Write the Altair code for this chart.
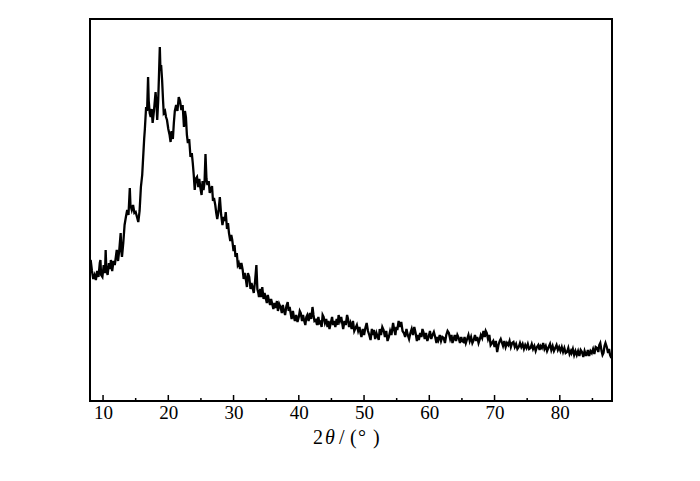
import altair as alt
import pandas as pd

two_theta = [
    8.1, 8.3, 8.5, 8.7, 8.9, 9.1, 9.3, 9.5, 9.6, 9.7, 9.9, 10.1, 10.3, 10.4, 10.5, 10.7,
    10.9, 11.1, 11.2, 11.4, 11.6, 11.8, 12.0, 12.1, 12.3, 12.5, 12.7, 12.8, 12.9, 13.1, 13.3, 13.5,
    13.7, 13.9, 14.1, 14.2, 14.4, 14.6, 14.8, 15.0, 15.2, 15.4, 15.6, 15.8, 16.0, 16.1, 16.3, 16.4,
    16.6, 16.75, 16.9, 17.0, 17.15, 17.3, 17.45, 17.6, 17.8, 18.05, 18.2, 18.3, 18.45, 18.55, 18.7, 18.8,
    18.9, 19.05, 19.2, 19.3, 19.5, 19.65, 19.8, 20.0, 20.2, 20.35, 20.5, 20.7, 20.85, 21.0, 21.2, 21.4,
    21.6, 21.8, 22.0, 22.2, 22.4, 22.55, 22.7, 22.85, 23.0, 23.2, 23.4, 23.6, 23.75, 23.9, 24.05, 24.2,
    24.4, 24.6, 24.75, 24.9, 25.1, 25.25, 25.4, 25.55, 25.7, 25.85, 26.0, 26.2, 26.35, 26.5, 26.7, 26.85,
    27.0, 27.2, 27.35, 27.5, 27.7, 27.9, 28.1, 28.3, 28.5, 28.65, 28.8, 29.0, 29.15, 29.3, 29.5, 29.65,
    29.8, 30.0, 30.15, 30.3, 30.5, 30.65, 30.8, 31.0, 31.2, 31.4, 31.55, 31.7, 31.9, 32.05, 32.2, 32.4,
    32.6, 32.75, 32.9, 33.1, 33.3, 33.5, 33.65, 33.8, 33.9, 34.1, 34.25, 34.4, 34.6, 34.75, 34.9, 35.1,
    35.25, 35.4, 35.6, 35.75, 35.9, 36.1, 36.3, 36.45, 36.65, 36.8, 37.0, 37.2, 37.4, 37.55, 37.7, 37.9,
    38.1, 38.3, 38.45, 38.6, 38.75, 38.9, 39.1, 39.25, 39.4, 39.6, 39.8, 40.0, 40.15, 40.3, 40.5, 40.65,
    40.8, 41.0, 41.15, 41.3, 41.5, 41.7, 41.9, 42.1, 42.25, 42.4, 42.6, 42.8, 43.0, 43.15, 43.3, 43.5,
    43.65, 43.8, 44.0, 44.2, 44.4, 44.55, 44.7, 44.9, 45.1, 45.25, 45.4, 45.6, 45.8, 45.95, 46.1, 46.3,
    46.5, 46.65, 46.8, 47.0, 47.2, 47.4, 47.55, 47.7, 47.9, 48.1, 48.3, 48.5, 48.7, 48.9, 49.1, 49.3,
    49.45, 49.6, 49.8, 50.0, 50.2, 50.4, 50.6, 50.8, 51.0, 51.2, 51.35, 51.5, 51.7, 51.9, 52.1, 52.25,
    52.4, 52.6, 52.8, 53.0, 53.2, 53.4, 53.6, 53.8, 54.0, 54.2, 54.45, 54.6, 54.8, 54.95, 55.1, 55.3,
    55.5, 55.7, 55.9, 56.1, 56.3, 56.5, 56.7, 56.9, 57.1, 57.3, 57.5, 57.7, 57.9, 58.1, 58.25, 58.4,
    58.6, 58.8, 58.95, 59.1, 59.3, 59.5, 59.7, 59.9, 60.1, 60.3, 60.5, 60.7, 60.9, 61.1, 61.25, 61.4,
    61.6, 61.8, 62.0, 62.2, 62.4, 62.6, 62.8, 63.0, 63.2, 63.4, 63.55, 63.7, 63.9, 64.1, 64.3, 64.5,
    64.7, 64.9, 65.05, 65.25, 65.4, 65.6, 65.8, 66.0, 66.2, 66.4, 66.6, 66.8, 67.0, 67.2, 67.35, 67.55,
    67.75, 67.9, 68.1, 68.3, 68.5, 68.65, 68.8, 69.0, 69.2, 69.4, 69.6, 69.8, 70.0, 70.2, 70.4, 70.6,
    70.8, 70.95, 71.1, 71.3, 71.5, 71.7, 71.9, 72.1, 72.3, 72.5, 72.7, 72.9, 73.1, 73.3, 73.5, 73.7,
    73.9, 74.1, 74.3, 74.5, 74.7, 74.9, 75.1, 75.3, 75.5, 75.7, 75.9, 76.1, 76.3, 76.5, 76.7, 76.9,
    77.05, 77.25, 77.45, 77.65, 77.85, 78.05, 78.3, 78.5, 78.7, 78.9, 79.1, 79.3, 79.5, 79.7, 79.9, 80.1,
    80.3, 80.5, 80.7, 80.9, 81.1, 81.3, 81.5, 81.7, 81.8, 82.0, 82.2, 82.4, 82.6, 82.8, 83.0, 83.2,
    83.4, 83.6, 83.8, 84.0, 84.1, 84.3, 84.5, 84.7, 84.9, 85.1, 85.3, 85.5, 85.7, 85.9, 86.05, 86.2,
    86.4, 86.55, 86.7, 86.85, 87.0, 87.2, 87.4, 87.55, 87.7, 87.9,
]
intensity = [
    141, 130, 122, 126, 121, 130, 124, 138, 141, 126, 124, 136, 128, 151, 132, 126,
    138, 132, 141, 130, 140, 136, 146, 151, 140, 152, 168, 150, 144, 158, 176, 184,
    191, 186, 213, 196, 191, 196, 188, 189, 184, 179, 190, 214, 226, 238, 262, 271,
    294, 290, 324, 300, 288, 284, 292, 278, 290, 309, 296, 281, 300, 321, 354, 330,
    336, 321, 300, 288, 290, 284, 281, 272, 266, 259, 270, 262, 278, 290, 296, 290,
    304, 300, 291, 296, 274, 290, 284, 266, 258, 262, 244, 248, 238, 226, 211, 222,
    224, 214, 222, 214, 206, 220, 211, 218, 247, 222, 216, 220, 208, 211, 215, 200,
    203, 196, 188, 182, 190, 204, 186, 176, 184, 180, 189, 172, 178, 168, 160, 166,
    161, 150, 156, 144, 148, 136, 138, 132, 138, 131, 122, 128, 121, 114, 128, 124,
    112, 118, 114, 108, 120, 136, 112, 108, 104, 112, 104, 114, 102, 108, 104, 98,
    106, 101, 96, 102, 98, 92, 98, 93, 100, 90, 97, 94, 88, 96, 91, 86,
    95, 99, 90, 94, 88, 82, 90, 84, 80, 86, 79, 84, 90, 88, 80, 86,
    81, 76, 84, 86, 80, 88, 82, 94, 86, 80, 81, 76, 84, 78, 79, 74,
    86, 84, 78, 82, 74, 80, 72, 78, 84, 76, 80, 74, 82, 76, 86, 80,
    84, 78, 72, 80, 76, 86, 82, 74, 78, 72, 80, 70, 73, 76, 70, 74,
    68, 64, 72, 66, 73, 78, 70, 66, 61, 72, 66, 71, 62, 68, 64, 61,
    72, 66, 74, 71, 64, 70, 60, 64, 70, 66, 78, 72, 66, 74, 71, 80,
    74, 79, 70, 68, 64, 72, 66, 62, 68, 72, 66, 74, 68, 60, 66, 61,
    68, 64, 72, 69, 62, 68, 60, 64, 70, 62, 66, 69, 64, 58, 64, 61,
    66, 60, 64, 63, 58, 66, 70, 68, 62, 66, 58, 61, 66, 60, 66, 63,
    58, 64, 60, 59, 64, 58, 62, 66, 60, 64, 58, 61, 66, 60, 64, 58,
    62, 66, 63, 70, 64, 70, 68, 62, 66, 56, 58, 60, 54, 60, 49, 56,
    60, 62, 59, 55, 60, 54, 58, 56, 60, 54, 58, 59, 54, 57, 52, 54,
    58, 54, 57, 52, 56, 53, 57, 52, 53, 57, 52, 55, 50, 54, 56, 51,
    55, 53, 58, 52, 55, 50, 54, 57, 51, 55, 50, 53, 56, 51, 54, 50,
    54, 49, 53, 48, 49, 53, 47, 50, 48, 52, 46, 50, 46, 50, 45, 51,
    49, 44, 50, 46, 46, 51, 45, 50, 48, 52, 47, 54, 53, 49, 56, 58,
    50, 46, 48, 55, 58, 54, 48, 52, 46, 43,
]

major_ticks = [10, 20, 30, 40, 50, 60, 70, 80]
minor_ticks = [15, 25, 35, 45, 55, 65, 75, 85]

W, H = 522, 382
serif = "Liberation Serif"

df = pd.DataFrame({"x": two_theta, "y": intensity})
xscale = alt.Scale(domain=[8, 88], nice=False, zero=False)
yscale = alt.Scale(domain=[0, 382], nice=False, zero=False)

line = alt.Chart(df).mark_line(color="black", strokeWidth=2.3, strokeJoin="miter").encode(
    x=alt.X("x:Q", scale=xscale,
            axis=alt.Axis(values=major_ticks, ticks=False, domain=False, grid=False,
                          labelFont=serif, labelFontSize=19, labelColor="black",
                          labelPadding=2, title=None)),
    y=alt.Y("y:Q", scale=yscale, axis=None),
)

maj = alt.Chart(pd.DataFrame({"t": major_ticks})).mark_rule(color="black", strokeWidth=1.5).encode(
    x=alt.X("t:Q", scale=xscale), y=alt.value(H), y2=alt.value(H - 6))
mnr = alt.Chart(pd.DataFrame({"t": minor_ticks})).mark_rule(color="black", strokeWidth=1.5).encode(
    x=alt.X("t:Q", scale=xscale), y=alt.value(H), y2=alt.value(H - 3))


def title_piece(s, x, italic=False):
    kw = dict(font=serif, fontSize=20, align="left", baseline="alphabetic", color="black")
    if italic:
        kw["fontStyle"] = "italic"
    return alt.Chart(pd.DataFrame({"s": [s]})).mark_text(**kw).encode(
        text="s:N", x=alt.value(x), y=alt.value(425))


t1 = title_piece("2", 223)
t2 = title_piece("θ", 235, italic=True)
t3 = title_piece("/", 249)
t4 = title_piece("(", 260)
t5 = title_piece("°", 268)
t6 = title_piece(")", 283)

chart = alt.layer(line, maj, mnr, t1, t2, t3, t4, t5, t6).properties(
    width=W, height=H,
    background="white",
    padding={"left": 78, "top": 11, "right": 5, "bottom": 5},
).configure_view(stroke="black", strokeWidth=2)

chart.save("out.html", embed_options={"renderer": "svg", "actions": False})
